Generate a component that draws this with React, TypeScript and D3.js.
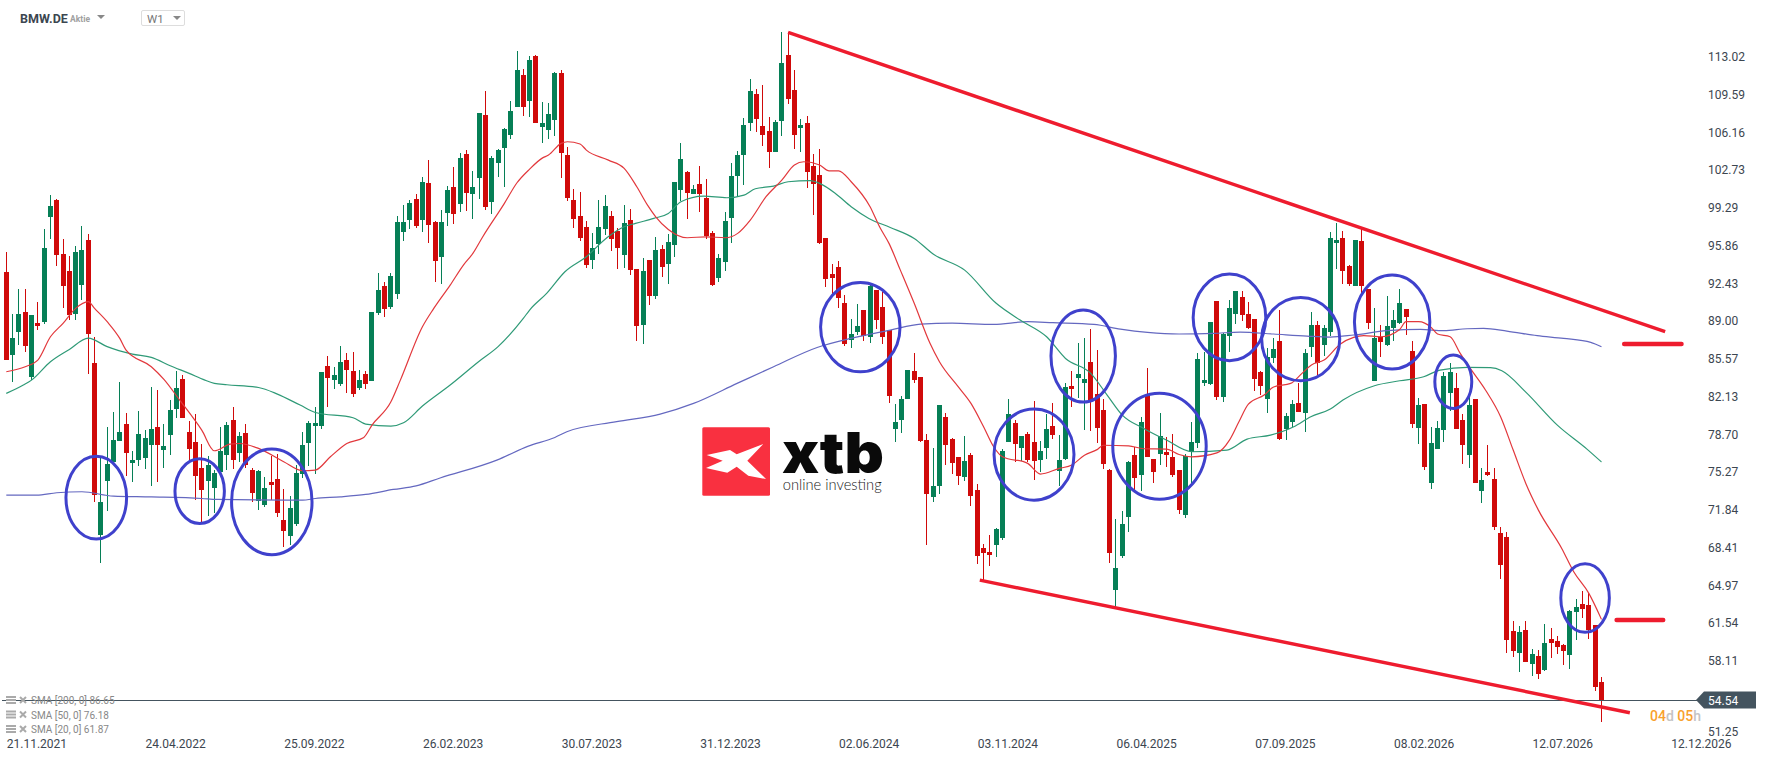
import { useEffect, useRef } from 'react';
import * as d3 from 'd3';

const WIDTH = 1768;
const HEIGHT = 761;

// weekly candles, 21.11.2021 onwards
const opens = [
  93.44, 85.9, 87.99, 89.81, 83.9, 88.81, 88.9, 98.44, 99.99, 95.08,
  93.53, 89.62, 92.26, 96.35, 85.17, 69.53, 74.44, 76.17, 78.08, 79.62,
  76.08, 76.35, 76.53, 77.71, 79.35, 77.26, 78.62, 80.98, 83.71, 78.89,
  77.98, 75.62, 74.44, 73.8, 75.26, 76.8, 79.98, 76.98, 78.8, 75.44,
  72.62, 72.26, 74.35, 74.62, 70.89, 69.44, 70.53, 75.08, 77.89, 79.44,
  79.44, 84.9, 83.62, 83.26, 85.44, 84.44, 82.9, 84.17, 83.53, 89.72,
  92.17, 90.26, 91.44, 97.08, 98.17, 100.08, 98.17, 101.53, 97.99, 94.81,
  98.81, 101.17, 99.62, 104.17, 100.53, 101.99, 107.72, 99.81, 103.35, 104.72,
  105.9, 108.44, 111.35, 108.99, 113.08, 106.62, 106.35, 107.26, 111.53, 104.08,
  99.99, 98.53, 97.53, 94.53, 95.99, 97.35, 98.53, 97.17, 94.99, 98.17,
  93.72, 88.62, 94.53, 91.26, 95.53, 94.17, 95.9, 100.9, 102.53, 100.53,
  101.44, 100.17, 96.99, 92.9, 94.35, 98.35, 102.17, 104.08, 106.99, 109.62,
  106.72, 106.26, 104.35, 107.17, 113.17, 109.99, 106.53, 106.99, 103.08, 102.26,
  96.53, 93.26, 93.9, 90.62, 87.26, 87.99, 89.99, 87.53, 91.81, 90.26,
  88.17, 79.17, 79.98, 81.89, 84.44, 83.89, 78.17, 72.99, 73.99, 80.26,
  78.26, 76.62, 74.8, 76.8, 73.62, 68.35, 67.99, 68.62, 69.26, 77.99,
  79.71, 77.44, 78.71, 77.99, 76.35, 77.44, 79.44, 75.35, 76.44, 83.08,
  83.81, 83.35, 85.26, 82.35, 80.9, 75.44, 64.53, 67.62, 71.17, 76.8,
  74.99, 82.17, 76.44, 76.9, 77.08, 76.62, 75.44, 71.35, 77.08, 77.9,
  83.35, 83.26, 90.81, 82.08, 87.62, 89.62, 91.17, 89.62, 89.17, 84.35,
  81.9, 85.62, 87.17, 79.17, 79.8, 81.53, 80.62, 86.62, 88.62, 86.81,
  87.99, 96.08, 96.53, 93.99, 92.17, 96.26, 91.9, 83.53, 87.53, 86.81,
  88.35, 88.81, 90.08, 86.26, 79.26, 81.47, 74.24, 77.35, 79.08, 82.44,
  82.9, 80.01, 76.77, 81.93, 73.53, 75.26, 74.62, 69.72, 69.35, 60.81,
  58.81, 60.9, 57.81, 58.53, 57.26, 60.08, 59.9, 59.53, 58.62, 62.53,
  63.26, 63.17, 61.35, 56.17,
];
const highs = [
  95.26, 89.62, 91.9, 91.9, 89.53, 90.72, 97.35, 100.44, 100.08, 96.44,
  94.9, 95.81, 97.62, 96.9, 87.53, 76.66, 79.38, 80.72, 83.44, 80.62,
  77.17, 80.8, 79.07, 82.98, 82.71, 79.62, 81.8, 84.44, 84.07, 79.89,
  80.53, 77.8, 76.71, 75.44, 79.35, 79.8, 81.17, 78.89, 79.62, 75.62,
  75.44, 74.8, 76.71, 76.89, 73.71, 73.07, 75.89, 78.89, 79.89, 81.17,
  84.35, 85.81, 84.81, 86.72, 86.08, 86.17, 84.53, 84.44, 89.81, 93.35,
  92.53, 93.35, 98.53, 99.53, 99.99, 100.53, 102.08, 103.62, 98.08, 99.08,
  101.26, 102.99, 104.26, 104.53, 102.62, 107.9, 109.9, 103.99, 104.62, 106.53,
  108.99, 113.53, 111.9, 113.08, 113.17, 108.9, 108.81, 111.62, 111.81, 104.81,
  100.99, 100.72, 98.08, 96.99, 99.99, 100.44, 98.99, 97.44, 99.53, 99.17,
  93.72, 94.72, 94.53, 96.62, 95.9, 96.9, 101.62, 105.17, 102.62, 101.35,
  103.08, 101.9, 97.17, 95.08, 98.9, 103.35, 104.44, 107.44, 110.99, 110.08,
  110.44, 107.53, 107.26, 115.26, 115.26, 111.81, 107.35, 107.62, 104.17, 104.62,
  96.53, 94.17, 94.44, 91.35, 89.17, 90.53, 89.99, 92.26, 91.81, 91.62,
  88.17, 81.44, 82.17, 84.53, 86.08, 83.89, 78.71, 77.44, 81.35, 80.62,
  78.35, 76.62, 78.53, 76.99, 74.17, 68.71, 69.53, 70.17, 77.35, 81.9,
  79.99, 78.53, 78.9, 81.71, 78.08, 80.53, 81.53, 78.62, 83.35, 84.44,
  86.99, 87.44, 88.26, 86.35, 81.9, 75.53, 70.99, 71.71, 76.26, 77.53,
  80.26, 84.71, 76.44, 80.62, 78.44, 78.71, 75.44, 76.9, 79.8, 86.08,
  86.17, 88.9, 90.81, 87.9, 90.9, 91.71, 91.71, 90.71, 89.17, 84.41,
  86.53, 87.44, 89.99, 80.62, 81.81, 83.35, 86.44, 89.81, 88.99, 88.62,
  97.08, 97.9, 97.17, 94.08, 96.35, 97.35, 91.9, 90.17, 88.63, 91.26,
  89.99, 91.9, 90.08, 87.17, 81.99, 81.47, 79.36, 79.92, 84.35, 85.17,
  84.26, 80.5, 82.12, 81.93, 75.62, 77.72, 75.62, 70.26, 69.81, 61.72,
  61.26, 61.72, 59.17, 59.08, 61.44, 61.08, 60.35, 59.62, 62.72, 63.72,
  64.44, 64.26, 61.35, 56.62,
];
const lows = [
  85.44, 83.47, 86.81, 86.2, 83.62, 88.17, 88.72, 96.44, 93.99, 90.17,
  89.08, 89.08, 90.9, 84.17, 72.53, 67.02, 71.75, 76.05, 78.08, 74.89,
  74.35, 75.8, 75.53, 73.98, 74.35, 75.62, 76.8, 80.17, 80.17, 76.35,
  72.71, 70.71, 71.26, 71.53, 75.26, 75.44, 75.53, 76.17, 75.62, 72.53,
  71.8, 72.08, 72.71, 71.17, 68.44, 68.62, 70.35, 74.71, 75.8, 75.08,
  79.17, 81.17, 82.81, 83.08, 82.44, 82.08, 82.72, 82.81, 83.53, 89.53,
  89.35, 90.08, 90.99, 96.26, 97.35, 97.44, 97.08, 96.08, 92.53, 92.35,
  97.62, 97.81, 98.9, 98.99, 98.26, 100.08, 99.08, 98.72, 102.08, 101.17,
  105.53, 108.44, 107.62, 107.53, 106.99, 105.17, 105.53, 105.81, 101.99, 99.9,
  97.44, 96.26, 93.81, 93.72, 95.08, 96.81, 95.35, 93.72, 93.81, 93.17,
  87.17, 86.9, 90.44, 90.99, 92.99, 92.35, 94.81, 99.9, 98.26, 100.53,
  98.9, 96.44, 92.17, 92.53, 93.53, 96.08, 100.35, 101.35, 106.26, 106.17,
  104.9, 102.9, 104.35, 105.81, 108.72, 104.62, 104.35, 101.08, 98.62, 95.99,
  92.08, 91.44, 90.17, 86.72, 86.53, 87.71, 87.17, 86.99, 88.26, 86.9,
  81.53, 77.99, 78.8, 81.89, 83.35, 77.99, 68.62, 72.53, 73.26, 75.89,
  75.08, 74.08, 74.44, 72.17, 66.9, 65.44, 66.71, 67.53, 69.08, 77.99,
  76.17, 76.26, 76.17, 74.53, 75.26, 76.44, 78.26, 73.99, 76.35, 81.17,
  81.99, 79.08, 78.99, 77.9, 75.53, 66.99, 63.02, 67.44, 69.81, 73.62,
  73.53, 76.62, 74.26, 75.9, 75.71, 74.8, 71.44, 71.08, 74.08, 77.44,
  83.08, 83.17, 81.81, 81.62, 86.17, 88.71, 88.99, 88.26, 82.62, 82.26,
  80.62, 85.17, 78.17, 78.17, 79.35, 80.71, 78.9, 85.71, 84.08, 85.8,
  87.63, 93.72, 92.35, 92.17, 92.17, 91.35, 88.26, 83.53, 85.72, 86.72,
  87.17, 88.72, 87.72, 79.26, 77.81, 75.47, 73.69, 77.35, 77.99, 80.81,
  79.17, 75.96, 75.63, 74.27, 72.44, 74.9, 69.99, 65.53, 58.81, 58.44,
  57.08, 57.99, 56.72, 56.44, 57.17, 58.35, 58.71, 57.72, 57.35, 59.99,
  61.99, 60.08, 55.35, 52.53,
];
const closes = [
  85.44, 87.44, 89.62, 86.72, 89.53, 88.53, 95.62, 99.44, 94.99, 92.17,
  89.53, 95.26, 95.44, 87.81, 73.14, 72.53, 75.99, 78.17, 78.9, 76.98,
  76.35, 78.71, 78.35, 79.17, 77.71, 77.62, 80.89, 82.89, 80.17, 77.35,
  74.89, 73.62, 75.89, 75.17, 77.17, 79.53, 76.35, 78.53, 75.89, 73.35,
  75.35, 73.8, 74.08, 71.53, 69.89, 71.98, 75.17, 77.71, 79.71, 79.71,
  84.35, 83.81, 84.08, 85.26, 84.53, 82.35, 83.62, 83.26, 89.81, 91.81,
  90.08, 93.08, 97.99, 97.99, 99.72, 97.62, 101.62, 97.72, 94.44, 97.99,
  100.9, 98.72, 103.81, 100.62, 101.17, 107.9, 99.35, 103.81, 104.53, 106.44,
  108.08, 111.81, 108.44, 112.72, 106.99, 106.99, 107.81, 111.53, 104.26, 100.17,
  98.26, 96.53, 94.08, 95.62, 97.53, 99.44, 96.44, 95.62, 97.9, 93.62,
  88.53, 93.53, 91.26, 95.44, 93.9, 96.17, 101.62, 103.72, 100.62, 100.99,
  100.53, 96.72, 92.26, 94.72, 98.08, 102.17, 104.08, 106.81, 109.9, 107.35,
  105.9, 104.35, 107.08, 112.44, 109.17, 105.9, 106.81, 102.53, 101.44, 96.08,
  92.81, 92.9, 91.08, 86.9, 87.81, 88.53, 87.62, 92.17, 89.08, 87.53,
  82.17, 79.8, 81.89, 84.53, 83.62, 78.08, 73.26, 73.99, 81.35, 77.71,
  76.08, 74.89, 76.26, 73.08, 67.62, 67.9, 67.71, 70.08, 77.17, 80.53,
  77.81, 78.53, 76.35, 76.26, 77.17, 79.17, 78.62, 76.35, 82.99, 82.81,
  84.17, 83.71, 81.81, 79.26, 75.99, 67.9, 66.53, 70.53, 76.17, 74.71,
  79.8, 76.62, 75.26, 78.53, 76.8, 74.99, 71.8, 76.71, 77.99, 85.53,
  83.62, 88.9, 82.08, 87.81, 90.17, 91.71, 89.53, 88.35, 83.71, 83.08,
  85.71, 86.44, 78.26, 80.35, 81.44, 80.71, 86.08, 88.62, 85.17, 88.35,
  96.53, 96.35, 93.53, 92.35, 96.35, 92.17, 88.81, 87.44, 87.08, 88.53,
  89.08, 90.63, 89.35, 79.63, 81.35, 75.7, 77.9, 79.3, 83.99, 84.35,
  79.17, 77.74, 81.38, 74.27, 74.53, 74.99, 70.26, 66.81, 59.99, 58.99,
  60.72, 57.99, 58.71, 56.9, 59.72, 59.72, 59.35, 58.99, 62.62, 62.99,
  62.81, 60.9, 55.72, 54.54,
];

// moving averages, sampled along the drawn line: week number + price
const sma20Weeks = [0, 3, 5, 7, 9, 11, 13, 14, 16, 18, 19, 23, 25, 27.5, 31, 33, 35.5, 37, 40, 44, 47, 49, 51.4, 54, 56.7, 58, 61, 62.5, 66, 67.8, 70.4, 72.5, 74, 75.5, 79, 81, 83, 85, 86, 88, 89, 91, 92, 95.5, 98, 100, 101.7, 103, 105, 108, 111, 114, 116, 118, 120.5, 123, 125, 126.5, 129, 130.5, 132, 134, 137, 138.5, 140, 141.8, 144, 146.5, 148, 151, 153, 155, 156.6, 158, 162, 164, 167, 169, 171, 173, 174, 178, 180.4, 184, 186, 188, 192, 194, 195.5, 197, 199.5, 201, 203.7, 205.5, 207, 209, 211.6, 213.7, 215.3, 218, 221, 222, 224, 226, 227, 229, 230.6, 232, 234.6, 237, 239, 241, 243, 246.7, 248.6, 251, 253];
const sma20Values = [84.38, 84.84, 85.44, 87.56, 88.78, 90.14, 90.75, 90.14, 88.93, 87.41, 86.35, 84.84, 83.69, 81.8, 79.07, 77.2, 77.8, 77.86, 77.41, 76.2, 75.38, 75.44, 76.65, 77.86, 78.41, 79.53, 81.65, 83.62, 88.47, 90.14, 92.26, 94.08, 95.14, 96.59, 99.69, 101.56, 102.8, 103.8, 104.08, 105.14, 105.29, 105.08, 104.53, 103.62, 102.87, 101.2, 99.53, 98.47, 97.32, 96.56, 96.65, 96.56, 96.96, 98.17, 100.29, 101.8, 103.17, 103.47, 103.17, 102.65, 102.65, 101.65, 99.38, 97.56, 96.05, 93.62, 90.6, 86.96, 85.29, 83.0, 81.5, 79.38, 77.56, 76.65, 76.05, 75.08, 75.59, 75.9, 76.8, 77.3, 77.7, 77.65, 77.38, 77.35, 76.86, 76.65, 77.0, 78.17, 79.84, 81.44, 82.26, 83.0, 83.32, 84.23, 85.0, 85.44, 86.9, 87.5, 87.66, 87.56, 88.23, 88.93, 88.93, 88.41, 87.81, 87.56, 86.05, 84.84, 82.72, 80.29, 77.26, 74.23, 71.8, 68.32, 66.2, 64.23, 61.87];
const sma50Weeks = [0, 2.7, 4, 7, 10, 13, 16, 20, 23, 26, 29, 31.5, 33, 35, 40, 43, 46.6, 49, 55, 57, 61, 63, 66, 70.4, 74.9, 78, 82, 83, 85.7, 88.6, 92, 95.3, 98, 99.8, 102.7, 105, 107, 110.6, 114.3, 117, 118.8, 121.7, 124, 127.5, 129, 131.5, 134, 136.8, 140.2, 144, 147, 152, 157, 160.8, 165, 168, 172, 174.6, 177, 180.4, 184, 188, 193.6, 196.8, 200.5, 204.2, 206.9, 210, 212, 217, 221, 224.8, 227.4, 231.7, 235.4, 237.2, 241, 246, 250.7, 253];
const sma50Values = [82.41, 83.17, 83.62, 85.29, 86.41, 87.44, 86.66, 85.99, 85.69, 84.93, 84.23, 83.62, 83.32, 83.2, 82.95, 82.35, 81.35, 80.68, 80.2, 79.62, 79.44, 79.74, 81.26, 83.17, 85.29, 86.66, 89.23, 89.99, 91.5, 93.47, 94.84, 96.59, 97.56, 97.87, 98.32, 98.77, 99.84, 100.35, 100.2, 100.44, 101.02, 101.26, 101.65, 101.75, 101.5, 100.59, 99.38, 98.32, 97.5, 96.5, 95.08, 93.62, 90.6, 89.08, 87.56, 85.59, 84.23, 82.26, 80.44, 79.23, 78.17, 77.11, 77.26, 78.26, 78.62, 79.38, 80.29, 80.99, 81.81, 83.11, 83.56, 83.93, 84.53, 84.78, 84.75, 84.47, 82.53, 79.53, 77.35, 76.18];
const sma200Weeks = [0, 4.8, 8, 12, 17, 23, 31, 33.4, 47, 49, 53, 57, 61.4, 65, 68.8, 77.8, 82.8, 87, 88.9, 96.8, 103.7, 109, 115.9, 121.7, 128.6, 133.9, 140.2, 145, 150, 156.6, 162, 166, 172.5, 176.7, 181, 186, 191.5, 195.7, 201, 206.3, 210, 213.7, 219, 224.3, 228, 231.7, 234.3, 238, 242.8, 247, 251.3, 253];
const sma200Values = [73.17, 73.17, 73.38, 73.47, 73.07, 73.0, 72.86, 72.77, 72.71, 72.86, 73.01, 73.23, 73.68, 74.0, 74.72, 76.35, 77.62, 78.41, 78.93, 79.84, 80.53, 81.5, 83.32, 84.84, 86.59, 87.41, 88.17, 88.71, 88.8, 88.68, 88.93, 88.84, 88.68, 88.26, 87.96, 87.81, 87.87, 87.99, 87.81, 87.62, 87.53, 87.72, 88.11, 88.23, 88.11, 88.29, 88.32, 88.08, 87.66, 87.41, 87.05, 86.65];

const priceTicks = [113.02, 109.59, 106.16, 102.73, 99.29, 95.86, 92.43, 89.0, 85.57, 82.13, 78.7, 75.27, 71.84, 68.41, 64.97, 61.54, 58.11, 51.25];
const dateWeeks = [0, 22, 44, 66, 88, 110, 132, 154, 176, 198, 220, 242, 264];
const dateLabels = ['21.11.2021', '24.04.2022', '25.09.2022', '26.02.2023', '30.07.2023', '31.12.2023', '02.06.2024', '03.11.2024', '06.04.2025', '07.09.2025', '08.02.2026', '12.07.2026', '12.12.2026'];
const legendLabels = ['SMA [200, 0] 86.65', 'SMA [50, 0] 76.18', 'SMA [20, 0] 61.87'];
const lastPrice = 54.54;

// hand drawn annotations, in week / price units
const trendFrom = [[124, 115.23], [154.4, 65.44]];
const trendTo = [[263.1, 88.02], [257.5, 53.38]];
const levelPrices = [86.9, 61.81];
const levelFrom = [256.6, 255.4];
const levelTo = [265.7, 262.8];
const circleWeeks = [14.27, 30.67, 42.11, 135.45, 163, 170.8, 182.9, 194, 205.3, 219.8, 229.5, 250.4];
const circlePrices = [72.94, 73.53, 72.55, 88.44, 76.85, 85.81, 77.6, 89.32, 87.35, 88.9, 83.47, 63.81];
const circleWidths = [4.81, 3.92, 6.38, 6.3, 6.34, 5.11, 7.41, 5.76, 6.19, 5.98, 2.93, 3.85];
const circleHeights = [3.77, 2.94, 4.8, 4.06, 4.14, 4.18, 4.82, 3.94, 3.79, 4.27, 2.43, 3.12];

const UP = '#067f56';
const DOWN = '#d00a0a';
const FONT = 'Roboto, sans-serif';

export default function App() {
  const svgRef = useRef<SVGSVGElement>(null);

  useEffect(() => {
    if (!svgRef.current) return;
    const svg = d3.select(svgRef.current);
    svg.selectAll('*').remove();

    const x = d3.scaleLinear().domain([0, 264]).range([6.3, 6.3 + 264 * 6.305]);
    const y = d3.scaleLinear().domain([113.02, 51.25]).range([56.7, 736.2]);

    // Candles
    const candles = svg.append('g').attr('shape-rendering', 'crispEdges');
    opens.forEach((open, i) => {
      const close = closes[i];
      const color = close >= open ? UP : DOWN;
      const cx = Math.floor(x(i));
      candles.append('rect')
        .attr('x', cx)
        .attr('width', 1)
        .attr('y', y(highs[i]))
        .attr('height', Math.max(1, y(lows[i]) - y(highs[i])))
        .attr('fill', color);
      const top = y(Math.max(open, close));
      const bottom = y(Math.min(open, close));
      candles.append('rect')
        .attr('x', cx - 2)
        .attr('width', 5)
        .attr('y', top)
        .attr('height', Math.max(2, bottom - top))
        .attr('fill', color);
    });

    // Moving averages
    const smaLine = d3.line<number>()
      .x(d => x(d))
      .curve(d3.curveMonotoneX);
    const drawSma = (weeks: number[], values: number[], color: string) => {
      svg.append('path')
        .attr('d', smaLine.y((_, i) => y(values[i]))(weeks))
        .attr('fill', 'none')
        .attr('stroke', color)
        .attr('stroke-width', 1.2);
    };
    drawSma(sma200Weeks, sma200Values, '#6468c0');
    drawSma(sma50Weeks, sma50Values, '#2f9a77');
    drawSma(sma20Weeks, sma20Values, '#e2383c');

    // Last price line
    svg.append('line')
      .attr('x1', 2)
      .attr('x2', 1697)
      .attr('y1', y(lastPrice))
      .attr('y2', y(lastPrice))
      .attr('stroke', '#44545f')
      .attr('stroke-width', 1)
      .attr('shape-rendering', 'crispEdges');

    // Annotations
    trendFrom.forEach((from, i) => {
      svg.append('line')
        .attr('x1', x(from[0]))
        .attr('y1', y(from[1]))
        .attr('x2', x(trendTo[i][0]))
        .attr('y2', y(trendTo[i][1]))
        .attr('stroke', '#ee1c2e')
        .attr('stroke-width', 3.4);
    });
    levelPrices.forEach((price, i) => {
      svg.append('line')
        .attr('x1', x(levelFrom[i]))
        .attr('x2', x(levelTo[i]))
        .attr('y1', y(price))
        .attr('y2', y(price))
        .attr('stroke', '#ee1c2e')
        .attr('stroke-width', 4.4)
        .attr('stroke-linecap', 'round');
    });
    circleWeeks.forEach((week, i) => {
      svg.append('ellipse')
        .attr('cx', x(week))
        .attr('cy', y(circlePrices[i]))
        .attr('rx', x(circleWidths[i]) - x(0))
        .attr('ry', y(113.02 - circleHeights[i]) - y(113.02))
        .attr('fill', 'none')
        .attr('stroke', '#3f41cc')
        .attr('stroke-width', 3);
    });

    // Logo
    const logo = svg.append('g');
    logo.append('rect')
      .attr('x', 702.3).attr('y', 427.3).attr('width', 67.7).attr('height', 68.4).attr('rx', 1.5)
      .attr('fill', '#f93040');
    logo.append('path')
      .attr('d', 'M706.7,455L730,450L736.7,454.3L763.3,444L747.3,460.7L766,479L748.3,475.7L736.7,466.7L727.3,472.7L706,468L722.7,460.7Z')
      .attr('fill', '#fff');
    logo.append('text')
      .attr('x', 782).attr('y', 472.7)
      .attr('font-family', 'Inter, sans-serif').attr('font-weight', 900).attr('font-size', 56)
      .attr('textLength', 102).attr('lengthAdjust', 'spacingAndGlyphs')
      .attr('fill', '#0a0a0a')
      .text('xtb');
    logo.append('text')
      .attr('x', 782.7).attr('y', 489.5)
      .attr('font-family', 'Lato, sans-serif').attr('font-weight', 300).attr('font-size', 15)
      .attr('textLength', 99).attr('lengthAdjust', 'spacingAndGlyphs')
      .attr('fill', '#222')
      .text('online investing');

    // Price axis
    const priceAxis = svg.append('g')
      .attr('transform', 'translate(1708,0)')
      .call(d3.axisRight(y).tickValues(priceTicks).tickSize(0).tickPadding(0).tickFormat(d => (d as number).toFixed(2)));
    priceAxis.select('.domain').remove();
    priceAxis.selectAll('text')
      .attr('font-family', FONT)
      .attr('font-size', 12)
      .attr('fill', '#3c4650')
      .attr('dy', d => ((d as number) === 51.25 ? '-0.1em' : '0.32em'));

    // Date axis
    const dateAxis = svg.append('g')
      .attr('transform', 'translate(0,739)')
      .call(d3.axisBottom(x).tickValues(dateWeeks).tickSize(0).tickPadding(0).tickFormat((_, i) => dateLabels[i]));
    dateAxis.select('.domain').remove();
    dateAxis.selectAll('text')
      .attr('font-family', FONT)
      .attr('font-size', 12)
      .attr('fill', '#3c4650')
      .attr('text-anchor', 'start');

    // Last price tag
    const tagY = y(lastPrice);
    svg.append('path')
      .attr('d', `M1696,${tagY}L1704,${tagY - 8.4}H1756V${tagY + 8.4}H1704Z`)
      .attr('fill', '#44545f');
    svg.append('text')
      .attr('x', 1708).attr('y', tagY + 4.8)
      .attr('font-family', FONT).attr('font-size', 12).attr('fill', '#fff')
      .text(lastPrice.toFixed(2));

    // Countdown to the candle close
    const countdown = svg.append('text')
      .attr('x', 1650).attr('y', 721)
      .attr('font-family', FONT).attr('font-size', 14).attr('font-weight', 500);
    [['04', '#f8a12e'], ['d ', '#c4c4c4'], ['05', '#f8a12e'], ['h', '#c4c4c4']].forEach(([t, color]) => {
      countdown.append('tspan').attr('fill', color).text(t);
    });

    // Indicator legend
    legendLabels.forEach((label, i) => {
      const rowY = 700 + i * 14.5;
      const row = svg.append('g').attr('transform', `translate(0,${rowY})`);
      [-4, -1, 2].forEach(dy => {
        row.append('rect').attr('x', 6).attr('y', dy).attr('width', 10).attr('height', 2).attr('fill', '#aaa');
      });
      row.append('path')
        .attr('d', 'M20,-3L26,3M26,-3L20,3')
        .attr('stroke', '#aaa')
        .attr('stroke-width', 2);
      row.append('text')
        .attr('x', 31).attr('y', 4)
        .attr('font-family', FONT).attr('font-size', 10).attr('fill', '#888')
        .text(label);
    });

    // Instrument header
    svg.append('text')
      .attr('x', 20).attr('y', 23)
      .attr('font-family', FONT).attr('font-weight', 700).attr('font-size', 12.5).attr('fill', '#3c4650')
      .text('BMW.DE');
    svg.append('text')
      .attr('x', 70).attr('y', 22)
      .attr('font-family', FONT).attr('font-weight', 700).attr('font-size', 8.5).attr('fill', '#a0a0a0')
      .text('Aktie');
    svg.append('path').attr('d', 'M97,15H105L101,19Z').attr('fill', '#888');
    svg.append('rect')
      .attr('x', 141.5).attr('y', 10.5).attr('width', 43).attr('height', 15).attr('rx', 1.5)
      .attr('fill', '#fff').attr('stroke', '#ddd');
    svg.append('text')
      .attr('x', 147).attr('y', 23)
      .attr('font-family', FONT).attr('font-size', 11.5).attr('fill', '#777')
      .text('W1');
    svg.append('path').attr('d', 'M173,16H181L177,20Z').attr('fill', '#888');
  }, []);

  return (
    <svg
      ref={svgRef}
      width={WIDTH}
      height={HEIGHT}
      style={{ position: 'absolute', left: 0, top: 0, background: '#fff' }}
    />
  );
}
